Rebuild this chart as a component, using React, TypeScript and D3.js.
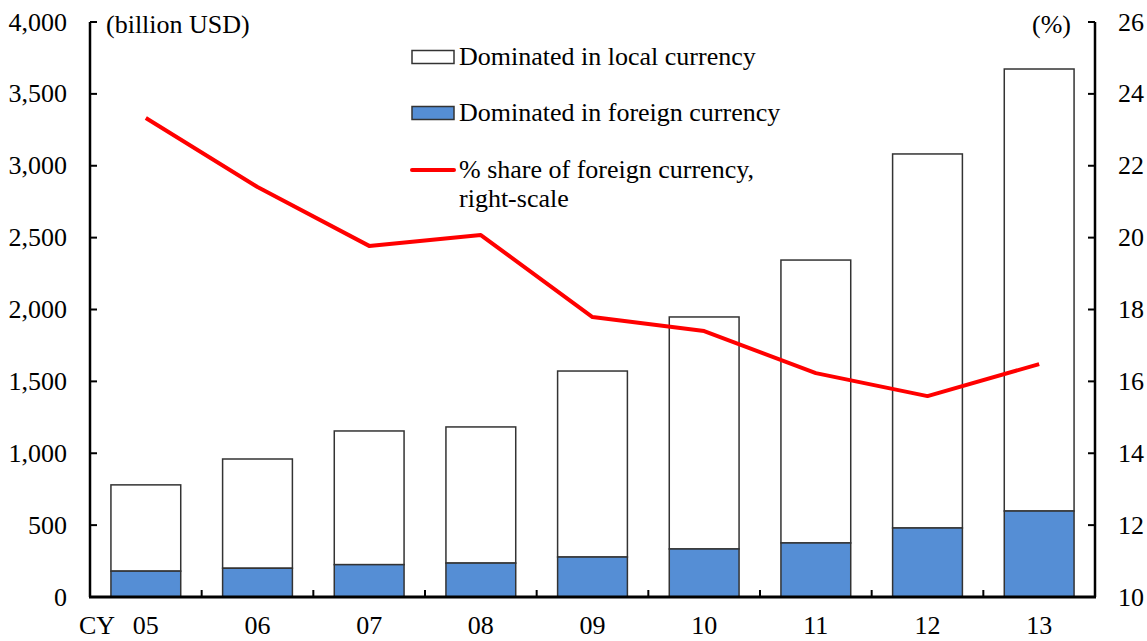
import * as d3 from 'd3'

const categories = ['05', '06', '07', '08', '09', '10', '11', '12', '13']
const totalIssued = [780, 960, 1155, 1183, 1572, 1948, 2344, 3082, 3673]
const foreignIssued = [180, 200, 225, 236, 278, 334, 376, 480, 598]
const foreignShare = [23.33, 21.41, 19.77, 20.07, 17.79, 17.4, 16.23, 15.59, 16.48]
const leftTicks = [0, 500, 1000, 1500, 2000, 2500, 3000, 3500, 4000]
const rightTicks = [10, 12, 14, 16, 18, 20, 22, 24, 26]

const W = 1147
const H = 641
const margin = { top: 22, right: 52, bottom: 44, left: 90 }
const FONT = "'Liberation Serif', 'Times New Roman', serif"
const FS = 26
const BLUE = '#558ED5'
const RED = '#FF0000'
const BAR_STROKE = '#333333'

export default function App() {
  const innerW = W - margin.left - margin.right
  const innerH = H - margin.top - margin.bottom

  const x = d3.scaleBand<string>().domain(categories).range([0, innerW]).paddingInner(0.375).paddingOuter(0.1875)
  const yLeft = d3.scaleLinear().domain([0, 4000]).range([innerH, 0])
  const yRight = d3.scaleLinear().domain([10, 26]).range([innerH, 0])

  const line = d3
    .line<number>()
    .x((_, i) => (x(categories[i]) ?? 0) + x.bandwidth() / 2)
    .y((d) => yRight(d))

  const step = x.step()
  const textStyle = { fontFamily: FONT, fontSize: FS }

  return (
    <svg width={W} height={H} style={{ position: 'absolute', left: 0, top: 0, background: '#fff', fontFamily: FONT }}>
      <g transform={`translate(${margin.left},${margin.top})`}>
        {/* bars: foreign at the bottom, local stacked above */}
        {categories.map((c, i) => (
          <g key={c}>
            <rect
              x={x(c)}
              y={yLeft(totalIssued[i])}
              width={x.bandwidth()}
              height={yLeft(foreignIssued[i]) - yLeft(totalIssued[i])}
              fill="#fff"
              stroke={BAR_STROKE}
              strokeWidth={1.5}
            />
            <rect
              x={x(c)}
              y={yLeft(foreignIssued[i])}
              width={x.bandwidth()}
              height={innerH - yLeft(foreignIssued[i])}
              fill={BLUE}
              stroke={BAR_STROKE}
              strokeWidth={1.5}
            />
          </g>
        ))}

        {/* share line */}
        <path d={line(foreignShare) ?? ''} fill="none" stroke={RED} strokeWidth={4} strokeLinejoin="round" />

        {/* left axis */}
        <line x1={0} x2={0} y1={0} y2={innerH} stroke="#000" strokeWidth={2.5} />
        {leftTicks.map((t) => (
          <g key={t} transform={`translate(0,${yLeft(t)})`}>
            <line x1={0} x2={7} stroke="#000" strokeWidth={2} />
            <text x={-23} dy="0.33em" textAnchor="end" style={textStyle} fill="#000">
              {d3.format(',')(t)}
            </text>
          </g>
        ))}

        {/* right axis */}
        <line x1={innerW} x2={innerW} y1={0} y2={innerH} stroke="#000" strokeWidth={2.5} />
        {rightTicks.map((t) => (
          <g key={t} transform={`translate(${innerW},${yRight(t)})`}>
            <line x1={0} x2={-7} stroke="#000" strokeWidth={2} />
            <text x={23} dy="0.33em" textAnchor="start" style={textStyle} fill="#000">
              {t}
            </text>
          </g>
        ))}

        {/* bottom axis */}
        <line x1={-1} x2={innerW + 1} y1={innerH} y2={innerH} stroke="#000" strokeWidth={3} />
        {categories.slice(1).map((c) => (
          <line
            key={c}
            x1={(x(c) ?? 0) - (step - x.bandwidth()) / 2}
            x2={(x(c) ?? 0) - (step - x.bandwidth()) / 2}
            y1={innerH}
            y2={innerH - 7}
            stroke="#000"
            strokeWidth={2}
          />
        ))}
        {categories.map((c) => (
          <text key={c} x={(x(c) ?? 0) + x.bandwidth() / 2} y={innerH + 37} textAnchor="middle" style={textStyle} fill="#000">
            {c}
          </text>
        ))}
        <text x={-11} y={innerH + 37} textAnchor="start" style={textStyle} fill="#000">
          CY
        </text>

        {/* unit labels */}
        <text x={16} y={11} style={textStyle} fill="#000">
          (billion USD)
        </text>
        <text x={innerW - 24} y={11} textAnchor="end" style={textStyle} fill="#000">
          (%)
        </text>
      </g>

      {/* legend */}
      <g>
        <rect x={412} y={50.5} width={42} height={13} fill="#fff" stroke={BAR_STROKE} strokeWidth={1.5} />
        <text x={459} y={65} style={textStyle} fill="#000">
          Dominated in local currency
        </text>
        <rect x={412} y={106.5} width={42} height={13} fill={BLUE} stroke={BAR_STROKE} strokeWidth={1.5} />
        <text x={459} y={121} style={textStyle} fill="#000">
          Dominated in foreign currency
        </text>
        <line x1={412} x2={454} y1={170} y2={170} stroke={RED} strokeWidth={4} strokeLinecap="round" />
        <text x={459} y={178} style={textStyle} fill="#000">
          % share of foreign currency,
        </text>
        <text x={459} y={207} style={textStyle} fill="#000">
          right-scale
        </text>
      </g>
    </svg>
  )
}
